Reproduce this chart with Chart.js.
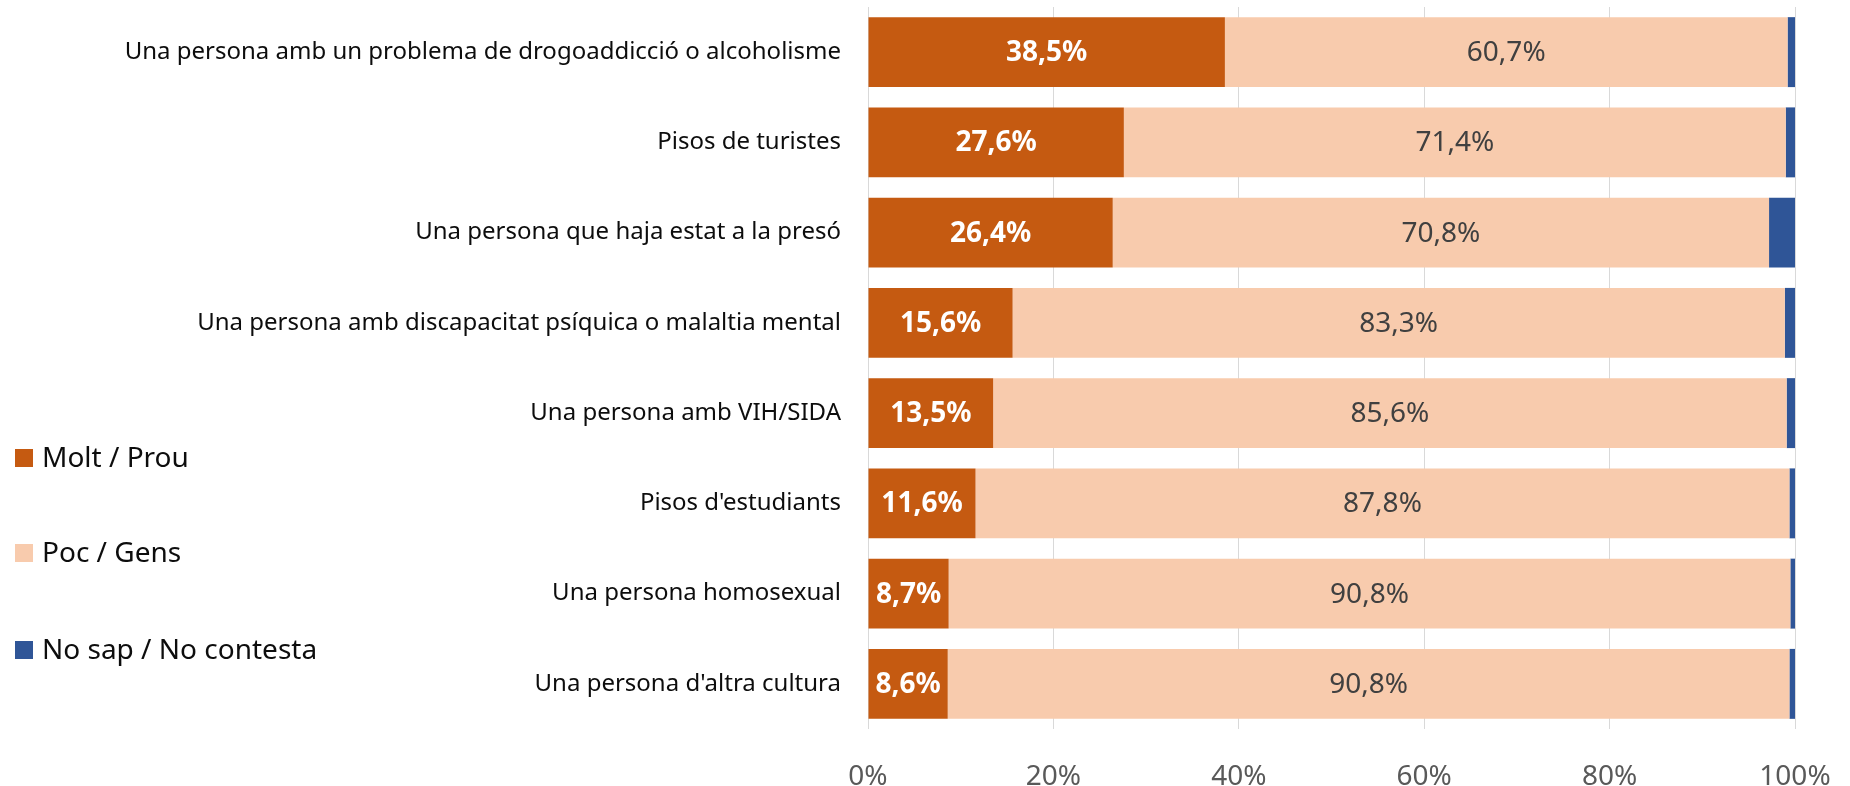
<!DOCTYPE html>
<html>
<head>
<meta charset="utf-8">
<script src="https://cdn.jsdelivr.net/npm/chart.js@4.4.1/dist/chart.umd.min.js"></script>
<style>
  body { margin: 0; background: #fff; }
</style>
</head>
<body>
<canvas id="grafic" width="1850" height="786"></canvas>
<script>
const categories = [
  "Una persona amb un problema de drogoaddicció o alcoholisme",
  "Pisos de turistes",
  "Una persona que haja estat a la presó",
  "Una persona amb discapacitat psíquica o malaltia mental",
  "Una persona amb VIH/SIDA",
  "Pisos d'estudiants",
  "Una persona homosexual",
  "Una persona d'altra cultura"
];
const moltProu = [38.5, 27.6, 26.4, 15.6, 13.5, 11.6, 8.7, 8.6];
const pocGens = [60.7, 71.4, 70.8, 83.3, 85.6, 87.8, 90.8, 90.8];
const noSap = [0.8, 1.0, 2.8, 1.1, 0.9, 0.6, 0.5, 0.6];
const xTicks = [0, 20, 40, 60, 80, 100];

const FONT = "'Noto Sans', 'Open Sans', sans-serif";

// etiquetes dins de les barres
const barLabels = {
  id: 'barLabels',
  afterDatasetsDraw(chart) {
    const ctx = chart.ctx;
    ctx.save();
    ctx.textAlign = 'center';
    ctx.textBaseline = 'middle';
    chart.data.datasets.forEach((ds, i) => {
      if (!ds.labelColor) return;
      const meta = chart.getDatasetMeta(i);
      meta.data.forEach((bar, j) => {
        ctx.fillStyle = ds.labelColor;
        ctx.font = ds.labelFont;
        const txt = ds.data[j].toFixed(1).replace('.', ',') + '%';
        ctx.fillText(txt, (bar.x + bar.base) / 2, bar.y + 1);
      });
    });
    ctx.restore();
  }
};

// llegenda a l'esquerra
const sideLegend = {
  id: 'sideLegend',
  afterDraw(chart) {
    const ctx = chart.ctx;
    const rows = [458, 553, 650];
    ctx.save();
    ctx.font = "28px " + FONT;
    ctx.textBaseline = 'middle';
    ctx.textAlign = 'left';
    chart.data.datasets.forEach((ds, i) => {
      ctx.fillStyle = ds.backgroundColor;
      ctx.fillRect(15, rows[i] - 9, 18, 18);
      ctx.fillStyle = '#0d0d0d';
      ctx.fillText(ds.label, 42, rows[i] + 1);
    });
    ctx.restore();
  }
};

new Chart(document.getElementById('grafic'), {
  type: 'bar',
  data: {
    labels: categories,
    datasets: [
      {
        label: 'Molt / Prou',
        data: moltProu,
        backgroundColor: '#C55A11',
        labelColor: '#ffffff',
        labelFont: "bold 28px " + FONT
      },
      {
        label: 'Poc / Gens',
        data: pocGens,
        backgroundColor: '#F8CBAD',
        labelColor: '#404040',
        labelFont: "28px " + FONT
      },
      {
        label: 'No sap / No contesta',
        data: noSap,
        backgroundColor: '#2F5597'
      }
    ]
  },
  options: {
    indexAxis: 'y',
    responsive: false,
    animation: false,
    barPercentage: 0.775,
    categoryPercentage: 1,
    layout: { padding: { top: 7, right: 55, left: 0, bottom: 0 } },
    plugins: {
      legend: { display: false },
      tooltip: { enabled: false }
    },
    scales: {
      x: {
        stacked: true,
        min: 0,
        max: 100,
        afterBuildTicks: (s) => { s.ticks = xTicks.map(v => ({ value: v })); },
        afterFit: (s) => {
          s.height = 57;
          s.paddingLeft = 0;
          s.paddingRight = 0;
        },
        grid: { color: '#D9D9D9', lineWidth: 1, drawTicks: false },
        border: { display: false },
        ticks: {
          padding: 31,
          color: '#595959',
          font: { family: FONT, size: 28 },
          callback: (v) => v + '%'
        }
      },
      y: {
        stacked: true,
        afterFit: (s) => {
          s.width = 868;
          s.paddingTop = 0;
          s.paddingBottom = 0;
        },
        grid: { display: false, drawTicks: false },
        border: { display: false },
        ticks: {
          padding: 27,
          color: '#0d0d0d',
          font: { family: FONT, size: 24 }
        }
      }
    }
  },
  plugins: [barLabels, sideLegend]
});
</script>
</body>
</html>
